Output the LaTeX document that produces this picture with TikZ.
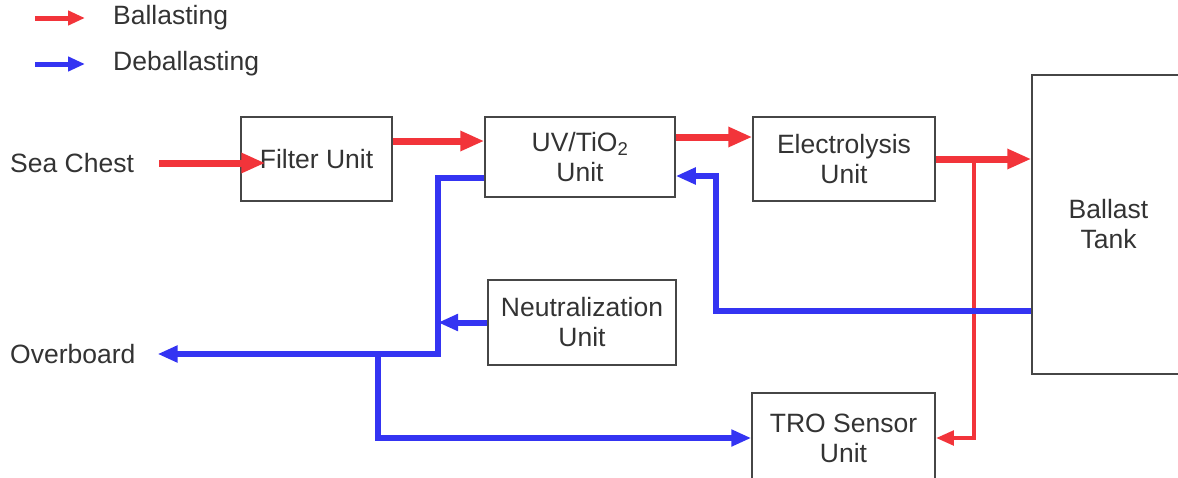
\documentclass[tikz,border=0pt]{standalone}
\usepackage{fontspec}
\setmainfont{Liberation Sans}
\usetikzlibrary{arrows.meta}
\definecolor{ballred}{RGB}{242,52,58}
\definecolor{deblue}{RGB}{52,52,242}
\definecolor{boxgray}{RGB}{70,70,70}

\begin{document}
\begin{tikzpicture}[x=1pt,y=-1pt,
		every node/.style={font=\fontsize{26.5}{30}\selectfont,text=black!80},
		unit/.style={rectangle,draw=boxgray,line width=1.5pt,align=center,inner sep=0pt},
		label/.style={anchor=west,inner sep=0pt},
		redflow/.style={draw=ballred,line width=7pt,-{Triangle[length=24pt,width=19pt]}},
		redthin/.style={draw=ballred,line width=4.5pt,-{Triangle[length=18pt,width=14pt]}},
		blueflow/.style={draw=deblue,line width=6pt,-{Triangle[length=20pt,width=16pt]}},
		keyarrow/.style={line width=5pt,-{Triangle[length=17pt,width=14pt]}}
		]
		\useasboundingbox (0,0) rectangle (1178,477);
		% legend
		\node (lb) [label] at (113,18) {Ballasting};
		\node (ld) [label] at (113,64) {Deballasting};
		\draw [keyarrow,draw=ballred] ([xshift=-78pt]lb.west) -- ([xshift=-28pt]lb.west);
		\draw [keyarrow,draw=deblue] ([xshift=-78pt]ld.west) -- ([xshift=-28pt]ld.west);
		% units
		\node (sc) [label] at (10,163) {Sea Chest};
		\node (ob) [label] at (10,354) {Overboard};
		\node (f) [unit,minimum width=151pt,minimum height=84pt] at (316.5,159) {Filter Unit};
		\node (uv) [unit,minimum width=190pt,minimum height=80pt] at (580,157) {UV/TiO\textsubscript{2}\\Unit};
		\node (el) [unit,minimum width=182pt,minimum height=84pt] at (844,159) {Electrolysis\\Unit};
		\node (bt) [unit,minimum width=153pt,minimum height=299pt] at (1108.5,224.5) {Ballast\\Tank};
		\node (ne) [unit,minimum width=188pt,minimum height=85pt] at (582,322.5) {Neutralization\\Unit};
		\node (tro) [unit,minimum width=183pt,minimum height=90pt] at (843.5,438) {TRO Sensor\\Unit};
		% bends
		\coordinate (j) at (974,159);
		\coordinate (r) at (716,176);
		\coordinate (k) at (438,354);
		\coordinate (m) at (378,354);
		% ballasting
		\draw [redflow] ([xshift=25pt]sc.east) -- ([xshift=25pt]sc.east -| f.west);
		\draw [redflow] ([yshift=18pt]f.east) -- ([yshift=18pt]f.east -| uv.west);
		\draw [redflow] ([yshift=20pt]uv.east) -- ([yshift=20pt]uv.east -| el.west);
		\draw [redflow] (el.east) -- (el.east -| bt.west);
		\draw [redthin] (j) |- (tro.east);
		% deballasting
		\draw [blueflow] (bt.west |- 0,311) -| (r) -- (r -| uv.east);
		\draw [blueflow] ([yshift=-21pt]uv.west) -| (k) -- ([xshift=22pt]ob.east);
		\draw [blueflow] (ne.west) -- (ne.west -| k);
		\draw [blueflow] (m) |- (tro.west);
\end{tikzpicture}
\end{document}
